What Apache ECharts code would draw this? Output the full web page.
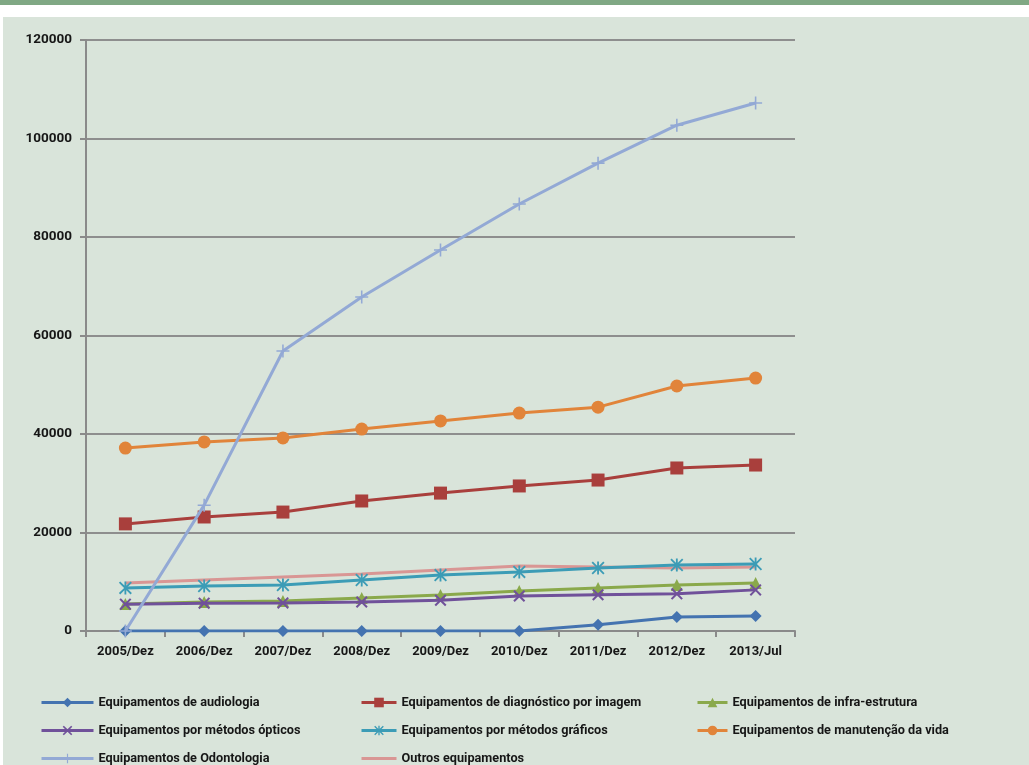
<!DOCTYPE html>
<html>
<head>
<meta charset="utf-8">
<script src="https://cdn.jsdelivr.net/npm/echarts@6/dist/echarts.min.js"></script>
<style>
  html, body { margin: 0; padding: 0; background: #ffffff; width: 1029px; height: 765px; overflow: hidden; }
  #topbar { position: absolute; left: 0; top: 0; width: 1029px; height: 5px; background: #80a884; }
  #panel { position: absolute; left: 3px; top: 17px; width: 1026px; height: 748px; background: #d9e4da; }
  #chart { position: absolute; left: 0; top: 0; width: 1029px; height: 765px; }
</style>
</head>
<body>
<div id="topbar"></div>
<div id="panel"></div>
<div id="chart"></div>
<script>
// Period labels (December of each year, July for 2013)
const periods = ['2005/Dez', '2006/Dez', '2007/Dez', '2008/Dez', '2009/Dez', '2010/Dez', '2011/Dez', '2012/Dez', '2013/Jul'];

// Equipment counts per group
const audiologia   = [0, 0, 0, 0, 0, 0, 1250, 2850, 3050];
const diagnostico  = [21750, 23150, 24150, 26400, 28000, 29450, 30650, 33100, 33700];
const infra        = [5500, 5900, 6100, 6700, 7300, 8100, 8750, 9350, 9750];
const opticos      = [5450, 5650, 5700, 5900, 6250, 7100, 7350, 7550, 8350];
const graficos     = [8750, 9150, 9350, 10350, 11350, 12000, 12800, 13400, 13600];
const manutencao   = [37150, 38400, 39200, 41000, 42650, 44250, 45450, 49750, 51350];
const odontologia  = [0, 25550, 56850, 67800, 77350, 86700, 95000, 102700, 107200];
const outros       = [9750, 10350, 10950, 11550, 12400, 13200, 13000, 12800, 13000];

const seriesNames = [
  'Equipamentos de audiologia',
  'Equipamentos de diagnóstico por imagem',
  'Equipamentos de infra-estrutura',
  'Equipamentos por métodos ópticos',
  'Equipamentos por métodos gráficos',
  'Equipamentos de manutenção da vida',
  'Equipamentos de Odontologia',
  'Outros equipamentos'
];

const yTicks = { min: 0, max: 120000, interval: 20000 };

// Marker shapes
const xMark = 'path://M1.2,0 L5,3.8 L8.8,0 L10,1.2 L6.2,5 L10,8.8 L8.8,10 L5,6.2 L1.2,10 L0,8.8 L3.8,5 L0,1.2 Z';
const starMark = 'path://M1,0 L5,4 L9,0 L10,1 L6,5 L10,9 L9,10 L5,6 L1,10 L0,9 L4,5 L0,1 Z M4.3,0 L5.7,0 L5.7,10 L4.3,10 Z';
const plusMark = 'path://M4.4,0 L5.6,0 L5.6,4.4 L10,4.4 L10,5.6 L5.6,5.6 L5.6,10 L4.4,10 L4.4,5.6 L0,5.6 L0,4.4 L4.4,4.4 Z';

const FONT = 'Roboto';
const TXT = '#161616';

function line(name, data, color, symbol, size, z) {
  return {
    name, type: 'line', data,
    symbol, symbolSize: size,
    z: z,
    lineStyle: { color, width: 3 },
    itemStyle: { color },
    emphasis: { disabled: true },
    animation: false
  };
}

const chart = echarts.init(document.getElementById('chart'), null, { renderer: 'canvas' });

const legendBase = {
  orient: 'vertical',
  padding: 0,
  itemHeight: 12,
  itemGap: 15,
  selectedMode: false,
  lineStyle: { width: 3 },
  textStyle: { fontFamily: FONT, fontSize: 12.7, fontWeight: 'bold', color: TXT }
};

chart.setOption({
  backgroundColor: 'transparent',
  animation: false,
  grid: { left: 86, right: 234, top: 40, bottom: 134 },
  xAxis: {
    type: 'category',
    data: periods,
    boundaryGap: true,
    axisLine: { lineStyle: { color: '#8a8a8a', width: 2 } },
    axisTick: { show: true, length: 6, lineStyle: { color: '#8a8a8a', width: 2 } },
    axisLabel: { margin: 14, fontFamily: FONT, fontSize: 13, fontWeight: 'bold', color: TXT }
  },
  yAxis: {
    type: 'value',
    min: yTicks.min, max: yTicks.max, interval: yTicks.interval,
    axisLine: { show: true, lineStyle: { color: '#8a8a8a', width: 2 } },
    axisTick: { show: true, length: 6, lineStyle: { color: '#8a8a8a', width: 2 } },
    splitLine: { show: true, lineStyle: { color: '#8e8e8e', width: 2 } },
    axisLabel: { margin: 14, fontFamily: FONT, fontSize: 13.5, fontWeight: 'bold', color: TXT,
      formatter: v => String(v) }
  },
  legend: [
    Object.assign({}, legendBase, { left: 40, top: 696, itemWidth: 52,
      data: [seriesNames[0], seriesNames[3], seriesNames[6]] }),
    Object.assign({}, legendBase, { left: 360, top: 696, itemWidth: 35,
      data: [seriesNames[1], seriesNames[4], { name: seriesNames[7], itemStyle: { opacity: 0 } }] }),
    Object.assign({}, legendBase, { left: 696, top: 696, itemWidth: 30,
      data: [seriesNames[2], seriesNames[5]] })
  ],
  series: [
    line(seriesNames[0], audiologia,  '#4473b0', 'diamond', 12, 8),
    line(seriesNames[1], diagnostico, '#a93f3c', 'rect', 13, 7),
    line(seriesNames[2], infra,       '#8aa94b', 'triangle', 12, 5),
    line(seriesNames[3], opticos,     '#70519a', xMark, 12, 6),
    line(seriesNames[4], graficos,    '#3c9cb6', starMark, 13, 4),
    line(seriesNames[5], manutencao,  '#e1843a', 'circle', 13, 7),
    line(seriesNames[6], odontologia, '#93a9d5', plusMark, 13, 9),
    line(seriesNames[7], outros,      '#d99694', 'none', 6, 3)
  ]
});
</script>
</body>
</html>
